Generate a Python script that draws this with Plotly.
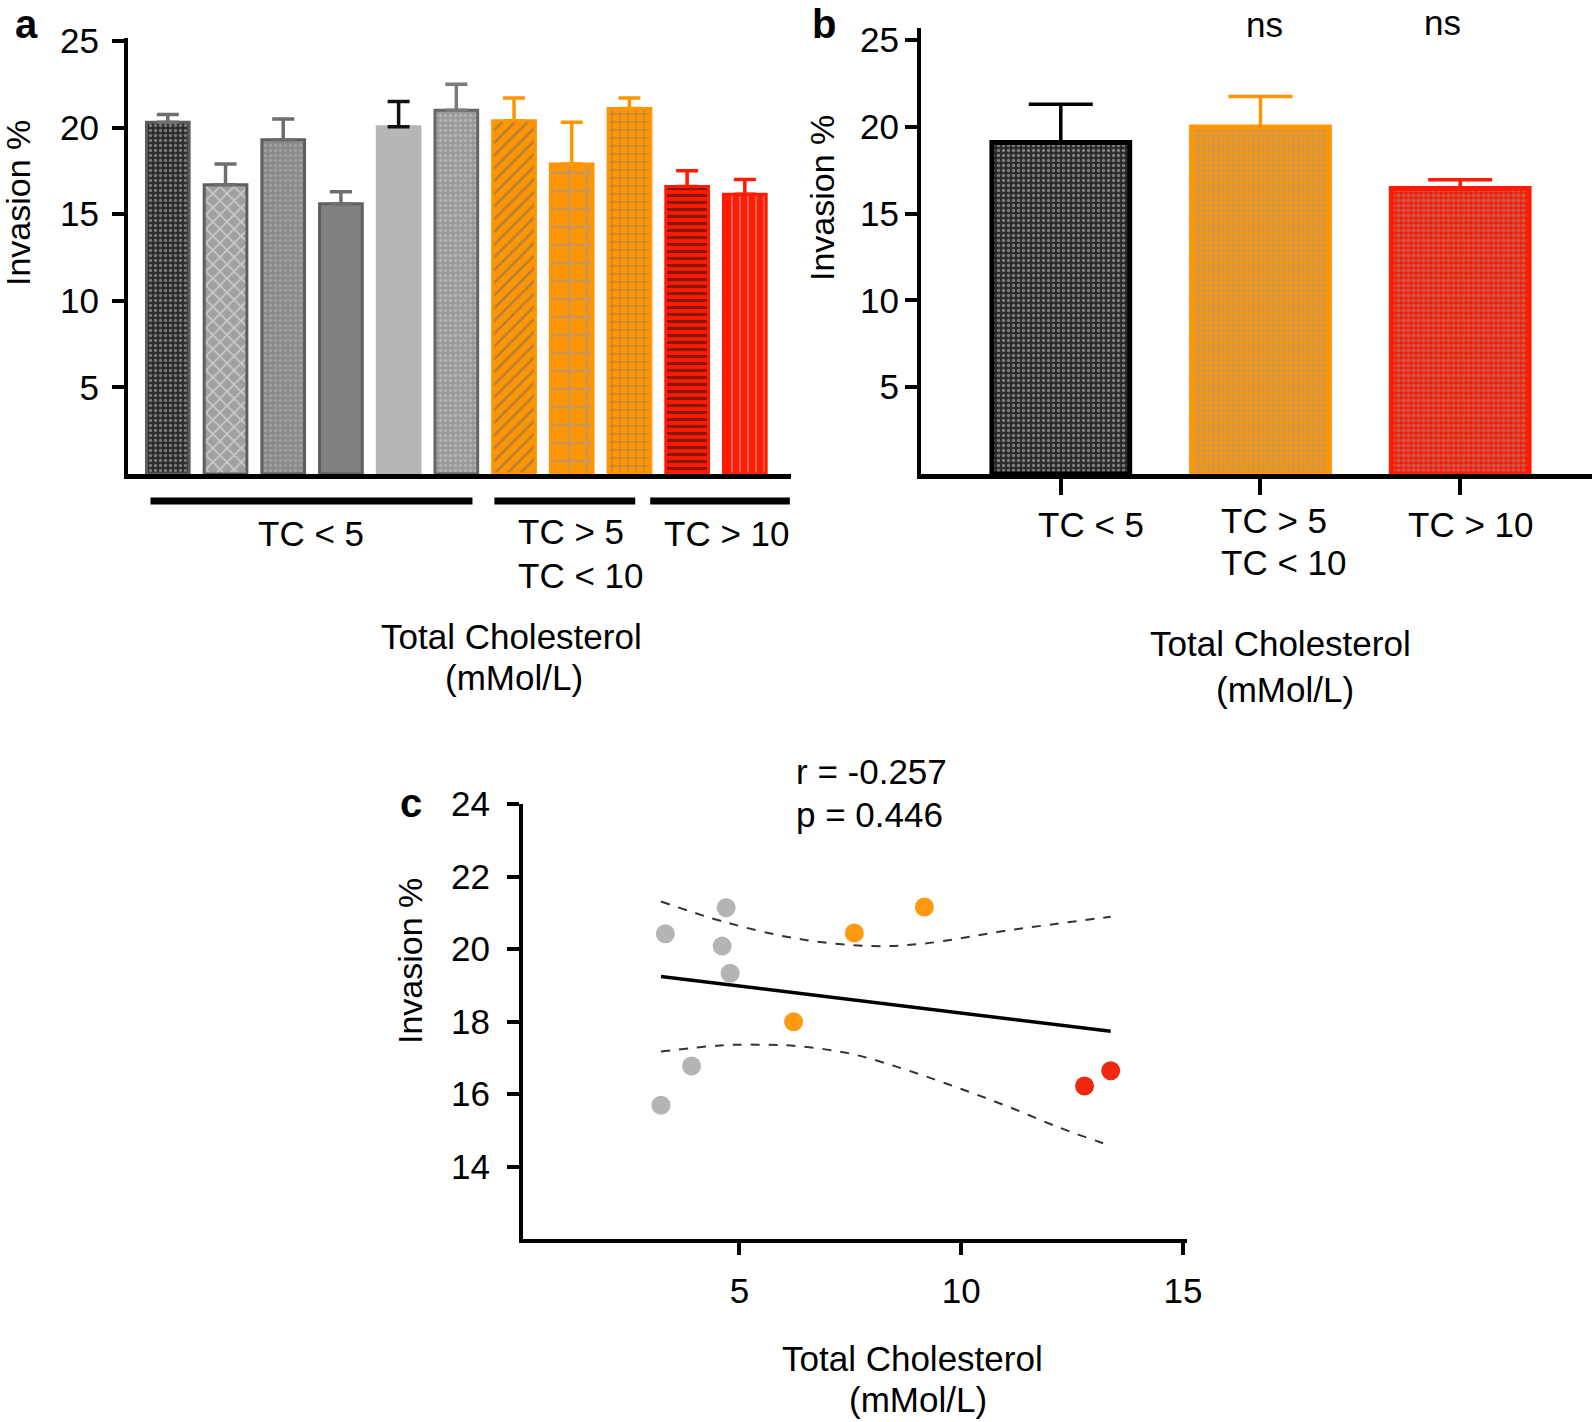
import plotly.graph_objects as go

W, H = 1595, 1422

# ---------------------------------------------------
# data
# ---------------------------------------------------
# panel a: single patients, grouped by total cholesterol
a_pos = list(range(11))
a_invasion = [20.3, 16.7, 19.3, 15.6, 20.05, 21.0, 20.4, 17.9, 21.1, 16.6, 16.15]
a_sem = [0.45, 1.2, 1.2, 0.7, 1.45, 1.5, 1.3, 2.4, 0.6, 0.9, 0.85]
a_groups = ["TC < 5", "TC > 5 / TC < 10", "TC > 10"]
a_group_span = [(-0.30, 5.28), (5.66, 8.10), (8.36, 10.78)]

# panel b: group means
b_labels = ["TC < 5", "TC > 5<br>TC < 10", "TC > 10"]
b_invasion = [19.1, 20.0, 16.45]
b_sem = [2.2, 1.75, 0.5]
b_signif = ["", "ns", "ns"]

# panel c: correlation
c_gray_x = [3.33, 4.70, 4.61, 4.79, 3.92, 3.23]
c_gray_y = [20.42, 21.14, 20.08, 19.33, 16.77, 15.69]
c_orange_x = [7.59, 9.17, 6.22]
c_orange_y = [20.44, 21.16, 17.99]
c_red_x = [12.78, 13.37]
c_red_y = [16.22, 16.64]
fit_x = [3.23, 13.37]
fit_y = [19.24, 17.73]
upper_x = [3.23, 4.68, 6.33, 7.98, 9.16, 11.04, 13.37]
upper_y = [21.31, 20.74, 20.28, 20.08, 20.15, 20.51, 20.89]
lower_x = [3.23, 4.56, 5.50, 6.33, 7.51, 8.68, 9.86, 11.04, 12.22, 13.37]
lower_y = [17.17, 17.34, 17.36, 17.32, 17.11, 16.70, 16.20, 15.66, 15.07, 14.57]

# ---------------------------------------------------
# styles
# ---------------------------------------------------
FONT = "Liberation Sans, Arial, sans-serif"
TXT = 35
ORANGE = "#ff9500"
RED = "#ff1a00"
GRAY_LINE = "#5e5e5e"

# (bg, pattern shape, fg, pattern size, solidity, outline colour, error colour)
a_styles = [
    ("#2b2b2b", ".", "#c8c8c8", 5, 0.35, GRAY_LINE, "#6e6e6e"),
    ("#a0a0a0", "x", "#f4f4f4", 10, 0.3, GRAY_LINE, "#6e6e6e"),
    ("#8a8a8a", ".", "#b4b4b4", 5, 0.4, GRAY_LINE, "#6e6e6e"),
    ("#808080", "", "#808080", 5, 0.3, GRAY_LINE, "#6e6e6e"),
    ("#b6b6b9", "", "#b6b6b9", 5, 0.3, "#b6b6b9", "#111111"),
    ("#999999", ".", "#cccccc", 5, 0.4, "#666666", "#7a7a7a"),
    (ORANGE, "/", "#6e6e6e", 9, 0.3, ORANGE, ORANGE),
    (ORANGE, "+", "#9a9aa4", 18, 0.3, ORANGE, ORANGE),
    (ORANGE, "+", "#777777", 8, 0.3, ORANGE, ORANGE),
    (RED, "-", "#111111", 7, 0.45, RED, RED),
    (RED, "|", "#a8a8a8", 8, 0.28, RED, RED),
]
b_styles = [
    ("#2a2a2a", ".", "#d0d0d0", 5, 0.35, "#000000", "#000000"),
    (ORANGE, ".", "#a09a94", 5, 0.6, ORANGE, ORANGE),
    (RED, ".", "#8a9a9a", 5, 0.55, RED, RED),
]


def px(x):
    return x / W


def py(y):
    return 1 - y / H


fig = go.Figure()

# panel a bars
for i, (v, e, st) in enumerate(zip(a_invasion, a_sem, a_styles)):
    bg, shape, fg, size, sol, line_c, err_c = st
    fig.add_trace(
        go.Bar(
            x=[a_pos[i]], y=[v], width=0.74,
            marker=dict(color=bg, line=dict(color=line_c, width=3),
                        pattern=dict(shape=shape, fgcolor=fg, size=size,
                                     solidity=sol, fillmode="overlay")),
            error_y=dict(type="data", array=[e], arrayminus=[0], symmetric=False,
                         color=err_c, thickness=3.5, width=11),
            xaxis="x", yaxis="y", showlegend=False,
        )
    )

# panel b bars
for i, (v, e, st) in enumerate(zip(b_invasion, b_sem, b_styles)):
    bg, shape, fg, size, sol, line_c, err_c = st
    fig.add_trace(
        go.Bar(
            x=[i], y=[v], width=0.69,
            marker=dict(color=bg, line=dict(color=line_c, width=5),
                        pattern=dict(shape=shape, fgcolor=fg, size=size,
                                     solidity=sol, fillmode="overlay")),
            error_y=dict(type="data", array=[e], arrayminus=[0], symmetric=False,
                         color=err_c, thickness=3.5, width=32),
            xaxis="x2", yaxis="y2", showlegend=False,
        )
    )

# panel c
fig.add_trace(go.Scatter(x=upper_x, y=upper_y, mode="lines", line=dict(color="#333333", width=2, dash="dash", shape="spline"),
                         xaxis="x3", yaxis="y3", showlegend=False))
fig.add_trace(go.Scatter(x=lower_x, y=lower_y, mode="lines", line=dict(color="#333333", width=2, dash="dash", shape="spline"),
                         xaxis="x3", yaxis="y3", showlegend=False))
fig.add_trace(go.Scatter(x=fit_x, y=fit_y, mode="lines", line=dict(color="black", width=3.5),
                         xaxis="x3", yaxis="y3", showlegend=False))
for xs, ys, col in [(c_gray_x, c_gray_y, "#b4b4b4"), (c_orange_x, c_orange_y, "#ff9a10"),
                    (c_red_x, c_red_y, "#f02810")]:
    fig.add_trace(go.Scatter(x=xs, y=ys, mode="markers", marker=dict(color=col, size=19),
                             xaxis="x3", yaxis="y3", showlegend=False))

axis_common = dict(showgrid=False, zeroline=False, showline=True, linecolor="black", linewidth=4,
                   ticks="outside", tickwidth=4, tickcolor="black", ticklen=12, automargin=False,
                   tickfont=dict(family=FONT, size=TXT, color="black"))

fig.update_layout(
    template="none",
    width=W, height=H, margin=dict(l=0, r=0, t=0, b=0, pad=0, autoexpand=False),
    paper_bgcolor="white", plot_bgcolor="white", barmode="overlay", showlegend=False,
    xaxis=dict(axis_common, domain=[px(128), px(791)], range=[-0.69, 10.8], ticks="", showticklabels=False,
               anchor="y", linewidth=5),
    yaxis=dict(axis_common, domain=[py(474), py(38)], range=[0, 25.17], tickvals=[5, 10, 15, 20, 25],
               anchor="x", ticklabelstandoff=6),
    xaxis2=dict(axis_common, domain=[px(921), px(1592)], range=[-0.7, 2.66], tickvals=[0, 1, 2],
                showticklabels=False, ticklen=16, anchor="y2", linewidth=5),
    yaxis2=dict(axis_common, domain=[py(474), py(28)], range=[0, 25.7], tickvals=[5, 10, 15, 20, 25],
                anchor="x2", ticklabelstandoff=-1),
    xaxis3=dict(axis_common, domain=[px(523), px(1187)], range=[0.12, 15.09], tickvals=[5, 10, 15],
                anchor="y3", ticklabelstandoff=6),
    yaxis3=dict(axis_common, domain=[py(1239), py(804)], range=[12, 24], tickvals=[14, 16, 18, 20, 22, 24],
                anchor="x3", ticklabelstandoff=10),
)

# group bars under panel a
for x0, x1 in a_group_span:
    fig.add_shape(type="line", xref="x", yref="paper", x0=x0, x1=x1, y0=py(501), y1=py(501),
                  line=dict(color="black", width=7))


def note(text, x, y, size=TXT, xanchor="center", angle=0, bold=False):
    if bold:
        text = "<b>" + text + "</b>"
    fig.add_annotation(text=text, x=px(x), y=py(y), xref="paper", yref="paper", showarrow=False,
                       xanchor=xanchor, yanchor="middle", textangle=angle,
                       font=dict(family=FONT, size=size, color="black"))


# panel letters
note("a", 27, 24, size=40, bold=True)
note("b", 824, 24, size=40, bold=True)
note("c", 411, 803, size=40, bold=True)

# y titles
note("Invasion %", 18, 203, size=34, angle=-90)
note("Invasion %", 822, 198, size=34, angle=-90)
note("Invasion %", 410, 961, size=34, angle=-90)

# panel a category labels
note(a_groups[0], 311, 533)
note("TC > 5", 516, 531, xanchor="left")
note("TC < 10", 516, 575, xanchor="left")
note(a_groups[2], 726, 533)
note("Total Cholesterol", 511, 636)
note("(mMol/L)", 514, 678)

# panel b category labels
note(b_labels[0], 1091, 524)
note("TC > 5", 1219, 520, xanchor="left")
note("TC < 10", 1219, 562, xanchor="left")
note(b_labels[2], 1470, 524)
note("Total Cholesterol", 1280, 643)
note("(mMol/L)", 1285, 689)
note(b_signif[1], 1264, 24)
note(b_signif[2], 1442, 23)

# panel c text
note("r = -0.257", 794, 772, xanchor="left")
note("p = 0.446", 794, 815, xanchor="left")
note("Total Cholesterol", 912, 1358)
note("(mMol/L)", 918, 1399)

# pin the plot to the page corner so nothing sits above it
pin = ("var gd = document.getElementById('{plot_id}');"
       "document.body.style.margin = '0';"
       "gd.style.position = 'absolute'; gd.style.top = '0px'; gd.style.left = '0px';")
fig.write_html("out.html", config={"displayModeBar": False}, post_script=pin)
